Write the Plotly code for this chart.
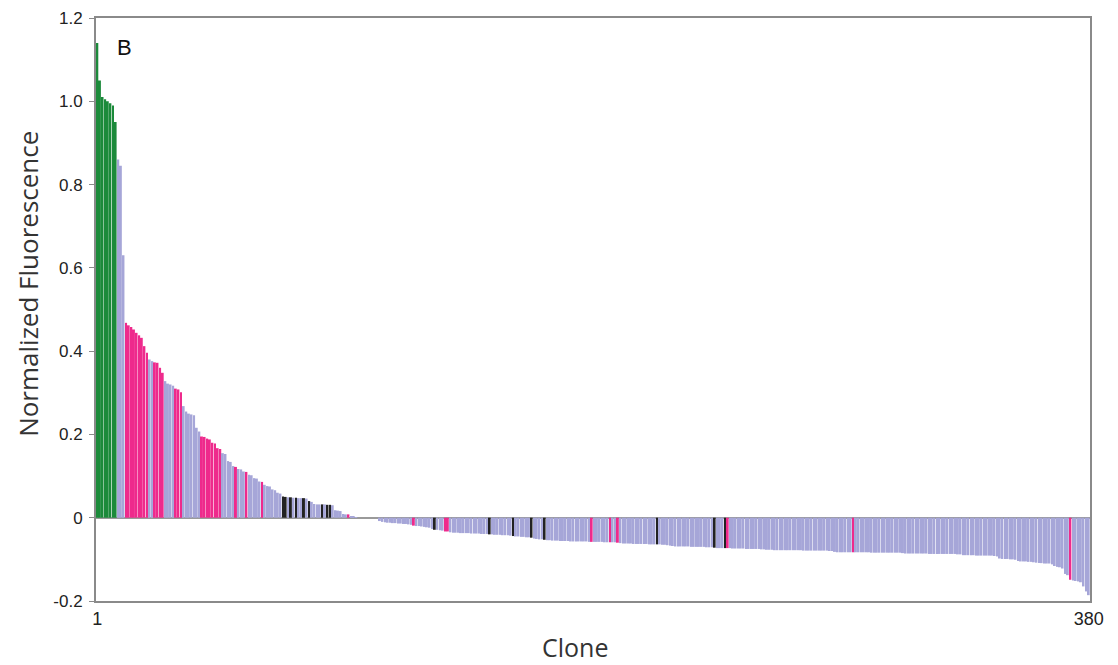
import plotly.graph_objects as go

# Normalized fluorescence per clone (sorted, clones 1..380)
values = [
    1.14, 1.05, 1.01, 1.005, 1.0, 0.995, 0.99, 0.95, 0.86, 0.845,
    0.63, 0.468, 0.462, 0.458, 0.452, 0.444, 0.438, 0.432, 0.412, 0.396,
    0.380, 0.376, 0.373, 0.372, 0.360, 0.348, 0.328, 0.322, 0.320, 0.317,
    0.310, 0.308, 0.301, 0.268, 0.255, 0.250, 0.248, 0.246, 0.216, 0.207,
    0.195, 0.194, 0.190, 0.188, 0.180, 0.178, 0.167, 0.165, 0.155, 0.153,
    0.136, 0.134, 0.124, 0.122, 0.117, 0.116, 0.111, 0.110, 0.103, 0.102,
    0.095, 0.094, 0.087, 0.086, 0.079, 0.076, 0.075, 0.068, 0.066, 0.060,
    0.058, 0.051, 0.050, 0.049, 0.049, 0.048, 0.048, 0.047, 0.047, 0.047,
    0.046, 0.040, 0.038, 0.033, 0.032, 0.032, 0.032, 0.032, 0.031, 0.031,
    0.030, 0.018, 0.017, 0.016, 0.009, 0.008, 0.008, 0.003, 0.002, 0.001,
    0.0, 0.0, 0.0, 0.0, 0.0, 0.0, 0.0, 0.0, -0.008, -0.010,
    -0.011, -0.012, -0.012, -0.013, -0.013, -0.014, -0.014, -0.015, -0.015, -0.016,
    -0.017, -0.019, -0.020, -0.020, -0.021, -0.022, -0.023, -0.024, -0.027, -0.029,
    -0.029, -0.030, -0.031, -0.033, -0.033, -0.035, -0.036, -0.036, -0.036, -0.037,
    -0.037, -0.037, -0.037, -0.038, -0.038, -0.038, -0.038, -0.039, -0.039, -0.039,
    -0.040, -0.040, -0.041, -0.041, -0.041, -0.042, -0.042, -0.042, -0.043, -0.044,
    -0.045, -0.045, -0.046, -0.046, -0.047, -0.047, -0.048, -0.050, -0.051, -0.052,
    -0.052, -0.053, -0.054, -0.054, -0.055, -0.055, -0.055, -0.056, -0.056, -0.056,
    -0.056, -0.057, -0.057, -0.057, -0.057, -0.057, -0.057, -0.057, -0.058, -0.058,
    -0.058, -0.058, -0.058, -0.058, -0.059, -0.059, -0.059, -0.059, -0.059, -0.060,
    -0.061, -0.062, -0.062, -0.062, -0.062, -0.063, -0.063, -0.063, -0.063, -0.063,
    -0.063, -0.064, -0.064, -0.064, -0.064, -0.064, -0.065, -0.065, -0.066, -0.067,
    -0.068, -0.069, -0.069, -0.069, -0.069, -0.069, -0.069, -0.070, -0.070, -0.070,
    -0.070, -0.070, -0.070, -0.071, -0.071, -0.071, -0.072, -0.073, -0.073, -0.073,
    -0.073, -0.073, -0.073, -0.074, -0.074, -0.074, -0.074, -0.074, -0.075, -0.075,
    -0.075, -0.075, -0.075, -0.075, -0.076, -0.076, -0.077, -0.077, -0.077, -0.078,
    -0.078, -0.078, -0.078, -0.078, -0.078, -0.078, -0.078, -0.078, -0.078, -0.078,
    -0.079, -0.079, -0.079, -0.079, -0.079, -0.079, -0.079, -0.079, -0.079, -0.079,
    -0.080, -0.080, -0.082, -0.083, -0.083, -0.083, -0.083, -0.083, -0.083, -0.083,
    -0.083, -0.083, -0.083, -0.083, -0.083, -0.083, -0.084, -0.084, -0.084, -0.084,
    -0.084, -0.084, -0.084, -0.084, -0.084, -0.084, -0.084, -0.084, -0.085, -0.086,
    -0.086, -0.086, -0.086, -0.086, -0.086, -0.086, -0.086, -0.086, -0.087, -0.087,
    -0.087, -0.087, -0.087, -0.087, -0.087, -0.087, -0.087, -0.087, -0.087, -0.088,
    -0.088, -0.090, -0.090, -0.090, -0.090, -0.090, -0.091, -0.091, -0.091, -0.091,
    -0.091, -0.091, -0.091, -0.092, -0.093, -0.098, -0.099, -0.099, -0.099, -0.100,
    -0.100, -0.101, -0.104, -0.105, -0.105, -0.105, -0.106, -0.106, -0.107, -0.108,
    -0.109, -0.109, -0.110, -0.110, -0.110, -0.112, -0.116, -0.118, -0.119, -0.122,
    -0.135, -0.138, -0.149, -0.151, -0.152, -0.153, -0.155, -0.165, -0.177, -0.186,
]

clones = list(range(1, len(values) + 1))

# Highlighted clone groups (all others are lavender)
green_clones = [1, 2, 3, 4, 5, 6, 7, 8]
pink_clones = [12, 13, 14, 15, 16, 17, 18, 19, 20, 23, 24, 25, 26, 31, 32, 33,
               41, 42, 43, 44, 45, 46, 47, 48, 54, 58, 64, 97, 122, 134, 135,
               190, 197, 200, 242, 290, 373]
black_clones = [72, 73, 75, 77, 80, 82, 87, 89, 90, 130, 151, 160, 167, 172,
                215, 237, 241]

y_tick_vals = [-0.2, 0, 0.2, 0.4, 0.6, 0.8, 1.0, 1.2]
y_tick_text = ["-0.2", "0", "0.2", "0.4", "0.6", "0.8", "1.0", "1.2"]
x_tick_vals = [1, 380]
x_tick_text = ["1", "380"]

GREEN = "#1b8a3a"
LAV = "#a6a6d8"
PINK = "#ee2a8c"
BLACK = "#222222"

colors = []
for c in clones:
    if c in green_clones:
        colors.append(GREEN)
    elif c in pink_clones:
        colors.append(PINK)
    elif c in black_clones:
        colors.append(BLACK)
    else:
        colors.append(LAV)

fig = go.Figure(go.Bar(x=clones, y=values, marker=dict(color=colors, line=dict(width=0)),
                       showlegend=False))

fig.update_layout(
    width=1118, height=665,
    margin=dict(l=96, r=28, t=18, b=64),
    paper_bgcolor="white", plot_bgcolor="white",
    bargap=0.25,
    font=dict(family="Liberation Sans, Arial, sans-serif", color="#222222"),
)
fig.update_xaxes(
    range=[0.5, 380.5], tickvals=x_tick_vals, ticktext=x_tick_text,
    showgrid=False, zeroline=False, showline=True, mirror=True,
    linecolor="#8a8a8a", linewidth=2, ticks="", automargin=False,
    tickfont=dict(size=18, color="#222222"),
)
fig.update_yaxes(
    range=[-0.2, 1.2], tickvals=y_tick_vals, ticktext=y_tick_text,
    showgrid=False, zeroline=True, zerolinecolor="#9a9a9a", zerolinewidth=1.5,
    showline=True, mirror=True, linecolor="#8a8a8a", linewidth=2,
    ticks="outside", ticklen=5, tickcolor="#8a8a8a", automargin=False,
    ticklabelstandoff=3,
    tickfont=dict(size=17, color="#222222"),
)
fig.add_annotation(x=0, y=0.544, xref="paper", yref="paper",
                   text="Normalized Fluorescence", textangle=-90,
                   showarrow=False, xanchor="center", yanchor="middle", xshift=-68,
                   font=dict(family="Open Sans, sans-serif", size=26, color="#333333"))
fig.add_annotation(x=0.482, y=0, xref="paper", yref="paper", text="Clone",
                   showarrow=False, xanchor="center", yanchor="middle", yshift=-46,
                   font=dict(family="Open Sans, sans-serif", size=25, color="#333333"))
fig.add_annotation(x=0.019, y=0.950, xref="paper", yref="paper", text="B",
                   showarrow=False, font=dict(size=22, color="#111111"),
                   xanchor="left", yanchor="middle")

fig.write_html("out.html", config={"displayModeBar": False},
               post_script="document.body.style.margin='0';document.body.style.overflow='hidden';")
